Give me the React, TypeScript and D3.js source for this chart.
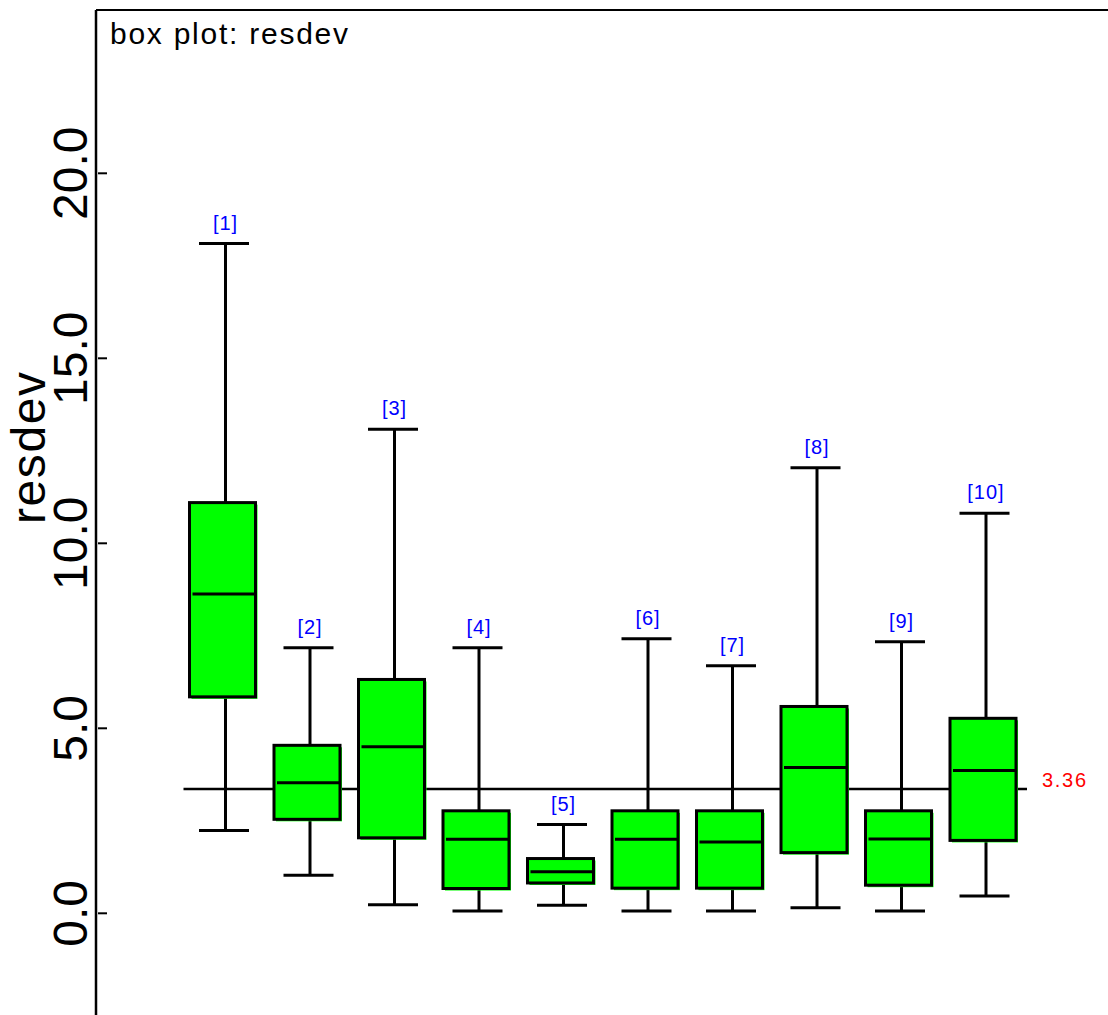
import React from "react";
import * as d3 from "d3";

const categories = ["[1]", "[2]", "[3]", "[4]", "[5]", "[6]", "[7]", "[8]", "[9]", "[10]"];
const whiskerHigh = [18.1, 7.18, 13.08, 7.18, 2.4, 7.42, 6.69, 12.04, 7.34, 10.81];
const q3Values = [11.1, 4.54, 6.32, 2.77, 1.48, 2.77, 2.77, 5.59, 2.77, 5.27];
const medians = [8.63, 3.53, 4.5, 2.0, 1.12, 2.0, 1.93, 3.94, 2.01, 3.86];
const q1Values = [5.85, 2.54, 2.04, 0.67, 0.82, 0.68, 0.68, 1.64, 0.76, 1.97];
const whiskerLow = [2.24, 1.03, 0.23, 0.06, 0.22, 0.06, 0.06, 0.15, 0.06, 0.47];
const refValue = 3.36;
const yTicks = [0, 5, 10, 15, 20];
const title = "box plot: resdev";
const yLabel = "resdev";

const W = 1108;
const H = 1015;
const FONT = "'Liberation Sans', Arial, sans-serif";

export default function App() {
  const y = d3.scaleLinear().domain([0, 20]).range([913.3, 173.3]);
  const x = d3.scalePoint<string>().domain(categories).range([225.5, 986]);
  const axisX = 96;
  const boxW = 66;
  const capW = 50;

  const xs = categories.map((c) => x(c) as number);
  const refY = y(refValue);

  return (
    <svg
      width={W}
      height={H}
      style={{ position: "absolute", left: 0, top: 0, background: "#fff" }}
      fontFamily={FONT}
    >
      {/* frame */}
      <line x1={axisX} x2={W} y1={10} y2={10} stroke="#000" strokeWidth={2} />
      <line x1={axisX} x2={axisX} y1={10} y2={H} stroke="#000" strokeWidth={2.5} />

      {/* ticks */}
      {yTicks.map((t) => (
        <g key={t}>
          <line x1={98} x2={107} y1={y(t)} y2={y(t)} stroke="#000" strokeWidth={2} />
          <text
            transform={`translate(87,${y(t)}) rotate(-90)`}
            textAnchor="middle"
            fontSize={48}
            fill="#000"
          >
            {d3.format(".1f")(t)}
          </text>
        </g>
      ))}

      <text
        transform={`translate(45,448) rotate(-90)`}
        textAnchor="middle"
        fontSize={48}
        fill="#000"
        textLength={152}
        lengthAdjust="spacing"
      >
        {yLabel}
      </text>

      <text x={110} y={44} fontSize={30} fill="#000" textLength={238} lengthAdjust="spacing">
        {title}
      </text>

      {/* reference line */}
      <line
        x1={xs[0] - 42}
        x2={xs[xs.length - 1] + 41}
        y1={refY}
        y2={refY}
        stroke="#000"
        strokeWidth={2.5}
      />
      <text x={1042} y={787} fontSize={20} fill="#ff0000" textLength={44} lengthAdjust="spacing">
        {refValue.toFixed(2)}
      </text>

      {categories.map((c, i) => {
        const cx = xs[i];
        const bx = cx - 3 - boxW / 2;
        const top = y(q3Values[i]);
        const bot = y(q1Values[i]);
        const capX = cx - 1.5;
        return (
          <g key={c}>
            <line x1={cx} x2={cx} y1={y(whiskerHigh[i])} y2={top} stroke="#000" strokeWidth={3} />
            <line x1={cx} x2={cx} y1={bot} y2={y(whiskerLow[i])} stroke="#000" strokeWidth={3} />
            <line
              x1={capX - capW / 2}
              x2={capX + capW / 2}
              y1={y(whiskerHigh[i])}
              y2={y(whiskerHigh[i])}
              stroke="#000"
              strokeWidth={3}
            />
            <line
              x1={capX - capW / 2}
              x2={capX + capW / 2}
              y1={y(whiskerLow[i])}
              y2={y(whiskerLow[i])}
              stroke="#000"
              strokeWidth={3}
            />
            <rect x={bx + 2} y={top + 2} width={boxW} height={bot - top} fill="#00ff00" />
            <rect x={bx} y={top} width={boxW} height={bot - top} fill="#00ff00" stroke="#000" strokeWidth={3} />
            <line
              x1={bx + 3}
              x2={bx + boxW + 1}
              y1={y(medians[i])}
              y2={y(medians[i])}
              stroke="#000"
              strokeWidth={3}
            />
            <text
              x={cx}
              y={y(whiskerHigh[i]) - 14}
              textAnchor="middle"
              fontSize={20}
              fill="#0000ff"
              letterSpacing={1}
            >
              {c}
            </text>
          </g>
        );
      })}
    </svg>
  );
}
